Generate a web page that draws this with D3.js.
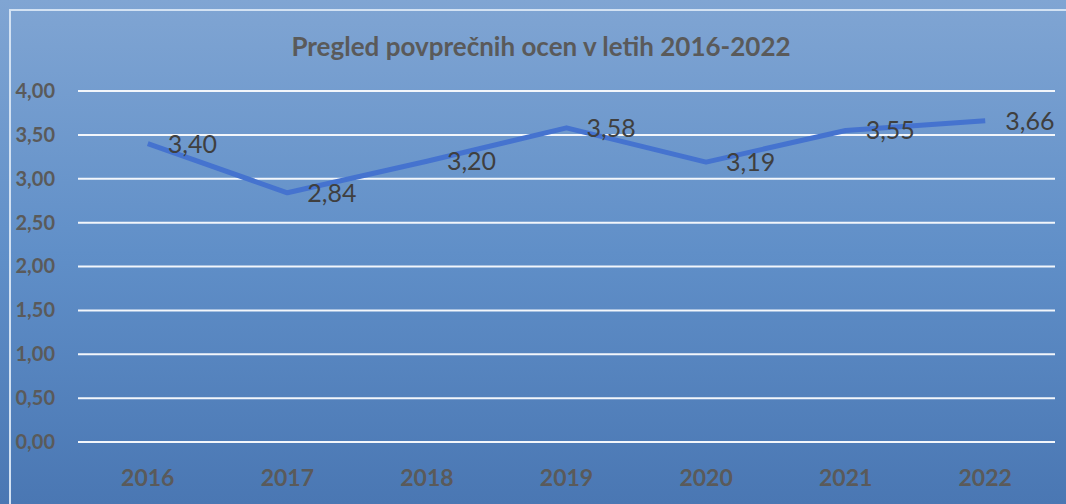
<!DOCTYPE html>
<html><head><meta charset="utf-8">
<script src="https://cdn.jsdelivr.net/npm/d3@7"></script>
<style>html,body{margin:0;padding:0;overflow:hidden;background:#6f95c8}</style>
</head><body>
<svg id="c" width="1066" height="504"></svg>
<script>
const title = "Pregled povprečnih ocen v letih 2016-2022";
const years = ["2016","2017","2018","2019","2020","2021","2022"];
const values = [3.40, 2.84, 3.20, 3.58, 3.19, 3.55, 3.66];
const yTicks = [0, 0.5, 1, 1.5, 2, 2.5, 3, 3.5, 4];

const W = 1066, H = 504;
const svg = d3.select("#c");
const defs = svg.append("defs");
const g = defs.append("linearGradient").attr("id","bg").attr("x1",0).attr("y1",0).attr("x2",0).attr("y2",1);
g.append("stop").attr("offset","0%").attr("stop-color","#80a5d3");
g.append("stop").attr("offset","50%").attr("stop-color","#608fc8");
g.append("stop").attr("offset","100%").attr("stop-color","#4a77b3");
svg.append("rect").attr("width",W).attr("height",H).attr("fill","url(#bg)");
// frame
svg.append("path").attr("d",`M10,${H} L10,10 L${W},10`).attr("fill","none")
  .attr("stroke","#d3e2f3").attr("stroke-width",2);

const plotL = 78, plotR = 1055, y0 = 442, y4 = 91;
const x = d3.scaleBand().domain(years).range([plotL, plotR]);
const y = d3.scaleLinear().domain([0,4]).range([y0, y4]);
const fmt = v => d3.format(".2f")(v).replace(".", ",");

// gridlines
svg.append("g").selectAll("line").data(yTicks).join("line")
  .attr("x1",plotL).attr("x2",plotR)
  .attr("y1",d=>y(d)).attr("y2",d=>y(d))
  .attr("stroke","#f2f6fb").attr("stroke-width",2);

// y axis
const ya = svg.append("g").attr("transform",`translate(55,0)`)
  .call(d3.axisLeft(y).tickValues(yTicks).tickFormat(fmt).tickSize(0).tickPadding(0));
ya.select(".domain").remove();
ya.selectAll("text").attr("fill","#5a5a5a").attr("font-family","Lato, sans-serif")
  .attr("font-weight","bold").attr("font-size",20);

// x axis
const xa = svg.append("g").attr("transform",`translate(0,${y0})`)
  .call(d3.axisBottom(x).tickSize(0).tickPadding(28));
xa.select(".domain").remove();
xa.selectAll("text").attr("fill","#5a5a5a").attr("font-family","Lato, sans-serif")
  .attr("font-weight","bold").attr("font-size",23);

// title
svg.append("text").attr("x",541).attr("y",56).attr("text-anchor","middle")
  .attr("fill","#5a5a5a").attr("font-family","Lato, sans-serif").attr("font-weight","bold")
  .attr("font-size",26).text(title);

// line
const data = years.map((yr,i)=>({yr, v: values[i]}));
const line = d3.line().x(d=>x(d.yr)+x.bandwidth()/2).y(d=>y(d.v));
svg.append("path").datum(data).attr("d",line).attr("fill","none")
  .attr("stroke","#4573cf").attr("stroke-width",5).attr("stroke-linejoin","round");

// labels
svg.append("g").selectAll("text").data(data).join("text")
  .attr("x",d=>x(d.yr)+x.bandwidth()/2+20)
  .attr("y",d=>y(d.v)+9)
  .attr("fill","#3f3f3f").attr("font-family","Lato, sans-serif").attr("font-size",25)
  .text(d=>fmt(d.v));
</script>
</body></html>
